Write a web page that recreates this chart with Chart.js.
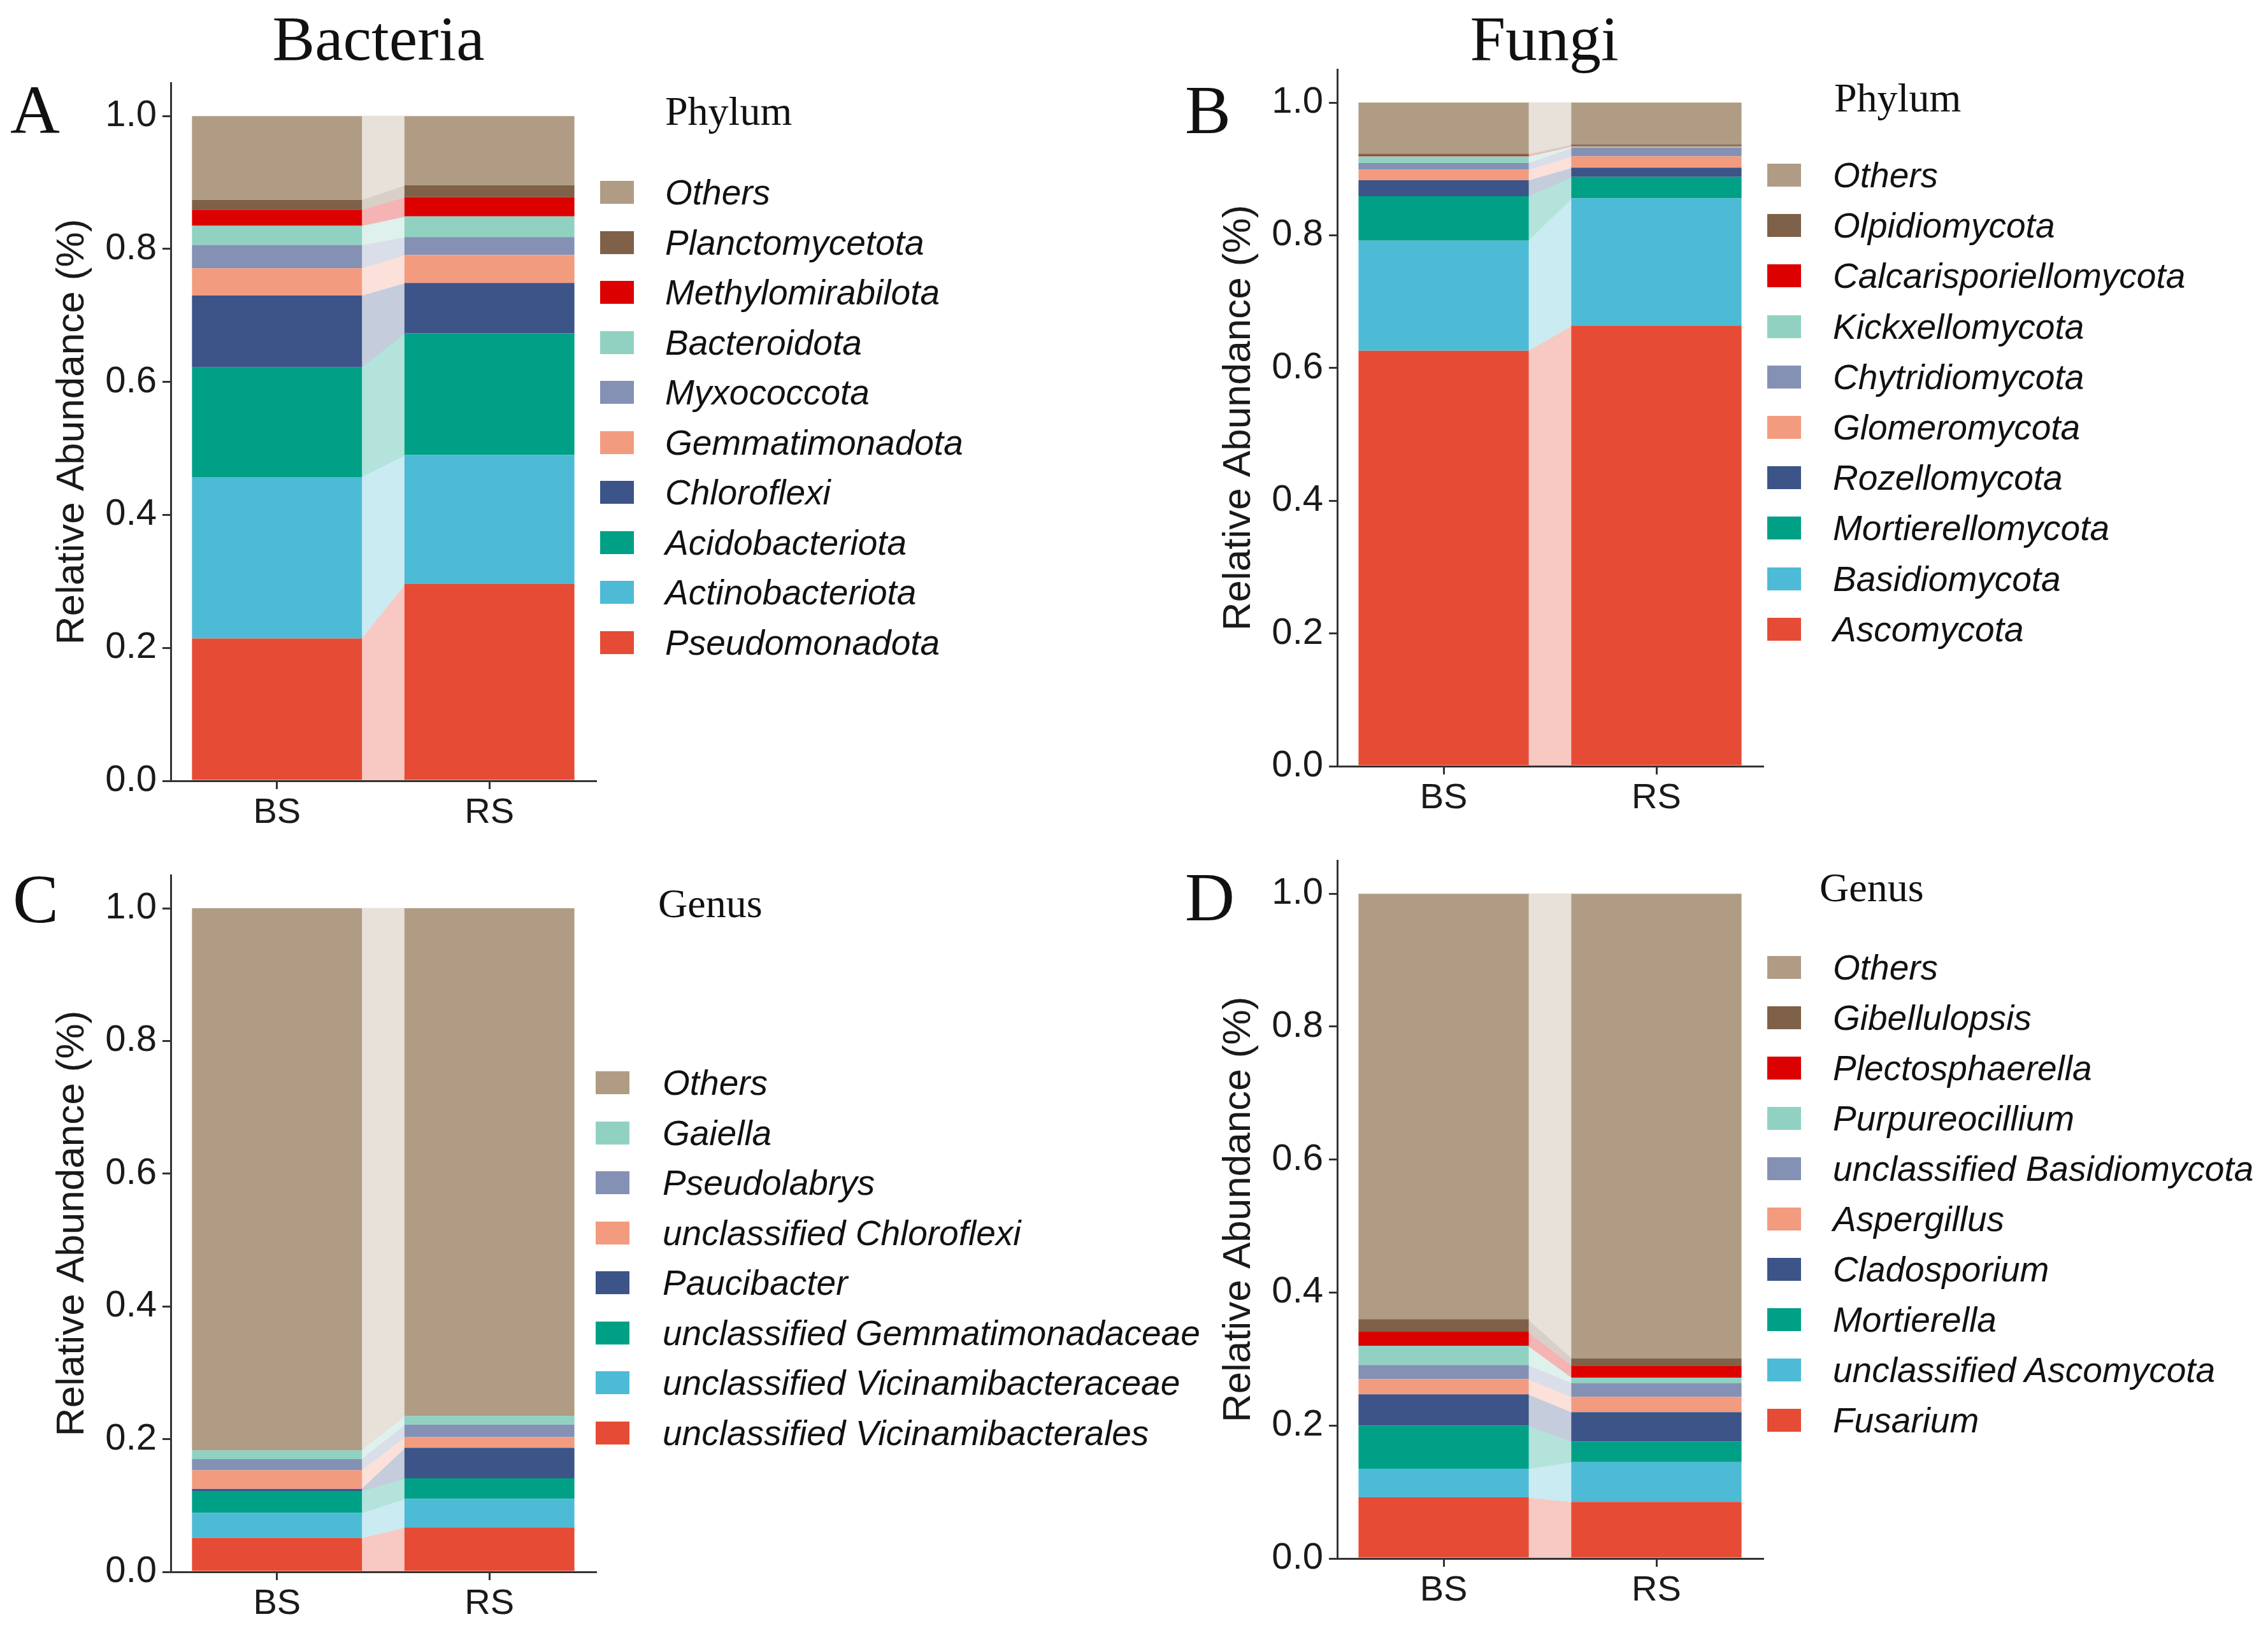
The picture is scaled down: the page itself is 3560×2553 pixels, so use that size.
<!DOCTYPE html>
<html><head><meta charset="utf-8">
<script src="https://cdn.jsdelivr.net/npm/chart.js@4.4.1/dist/chart.umd.min.js"></script>
<style>
html,body{margin:0;padding:0;background:#fff;}
body{width:3560px;height:2553px;position:relative;overflow:hidden;}
canvas{position:absolute;}
.t{position:absolute;white-space:nowrap;line-height:1;color:#111;}
.serif{font-family:"Liberation Serif","Times New Roman",serif;}
.sans{font-family:"Liberation Sans",Arial,sans-serif;}
.sw{position:absolute;}
</style></head><body>
<script>
// ---------------- DATA ----------------
const samples = ["BS", "RS"];
const yTicks = [0, 0.2, 0.4, 0.6, 0.8, 1.0];
const yAxisTitle = "Relative Abundance (%)";
const groupTitles = ["Bacteria", "Fungi"];
const panelLetters = ["A", "B", "C", "D"];
const legendTitles = ["Phylum", "Phylum", "Genus", "Genus"];

const palette10 = ["#E64B35","#4DBBD5","#00A087","#3C5488","#F39B7F","#8491B4","#91D1C2","#DC0000","#7E6148","#B09C85"];
const palette8  = ["#E64B35","#4DBBD5","#00A087","#3C5488","#F39B7F","#8491B4","#91D1C2","#B09C85"];

// names listed bottom -> top of the stack
const bacPhylumNames = ["Pseudomonadota","Actinobacteriota","Acidobacteriota","Chloroflexi","Gemmatimonadota","Myxococcota","Bacteroidota","Methylomirabilota","Planctomycetota","Others"];
const bacPhylumBS = [0.214,0.243,0.165,0.108,0.041,0.035,0.029,0.024,0.015,0.126];
const bacPhylumRS = [0.296,0.194,0.183,0.076,0.042,0.027,0.031,0.029,0.018,0.104];

const funPhylumNames = ["Ascomycota","Basidiomycota","Mortierellomycota","Rozellomycota","Glomeromycota","Chytridiomycota","Kickxellomycota","Calcarisporiellomycota","Olpidiomycota","Others"];
const funPhylumBS = [0.626,0.166,0.067,0.024,0.016,0.010,0.010,0.002,0.002,0.077];
const funPhylumRS = [0.664,0.192,0.032,0.014,0.017,0.013,0.002,0.001,0.002,0.063];

const bacGenusNames = ["unclassified Vicinamibacterales","unclassified Vicinamibacteraceae","unclassified Gemmatimonadaceae","Paucibacter","unclassified Chloroflexi","Pseudolabrys","Gaiella","Others"];
const bacGenusBS = [0.051,0.038,0.033,0.003,0.028,0.017,0.013,0.817];
const bacGenusRS = [0.067,0.043,0.031,0.046,0.016,0.019,0.013,0.765];

const funGenusNames = ["Fusarium","unclassified Ascomycota","Mortierella","Cladosporium","Aspergillus","unclassified Basidiomycota","Purpureocillium","Plectosphaerella","Gibellulopsis","Others"];
const funGenusBS = [0.092,0.043,0.065,0.047,0.023,0.021,0.029,0.021,0.019,0.640];
const funGenusRS = [0.085,0.060,0.031,0.044,0.023,0.021,0.008,0.018,0.011,0.699];

// ---------------- RENDER ----------------
const SANS = '"Liberation Sans", Arial, sans-serif';
const SERIF = '"Liberation Serif", "Times New Roman", serif';

function mixWhite(hex, a){
  const r=parseInt(hex.slice(1,3),16), g=parseInt(hex.slice(3,5),16), b=parseInt(hex.slice(5,7),16);
  const f=v=>Math.round(255-(255-v)*a);
  return `rgb(${f(r)},${f(g)},${f(b)})`;
}

const linkPlugin = {
  id:'links',
  beforeDatasetsDraw(chart){
    const ctx = chart.ctx;
    chart.data.datasets.forEach((ds,i)=>{
      const m = chart.getDatasetMeta(i);
      const a = m.data[0], b = m.data[1];
      if(!a||!b) return;
      const ax = a.x + a.width/2, bx = b.x - b.width/2;
      const c = mixWhite(ds.backgroundColor, 0.3);
      ctx.save();
      ctx.fillStyle = c; ctx.strokeStyle = c; ctx.lineWidth = 1;
      ctx.beginPath();
      ctx.moveTo(ax-1, a.y); ctx.lineTo(bx+1, b.y); ctx.lineTo(bx+1, b.base); ctx.lineTo(ax-1, a.base);
      ctx.closePath(); ctx.fill(); ctx.stroke();
      ctx.restore();
    });
  }
};

function addText(txt, cls, size, x, top, opts={}){
  const d=document.createElement('div');
  d.className='t '+cls; d.textContent=txt;
  d.style.fontSize=size+'px'; d.style.left=x+'px'; d.style.top=top+'px';
  if(opts.italic) d.style.fontStyle='italic';
  document.body.appendChild(d);
  if(opts.center){ d.style.left=(x - d.offsetWidth/2)+'px'; }
  return d;
}

function makePanel(names, colors, bs, rs, area){
  const yW=248, xH=110, padTop=70, padRight=20;
  const cl=area.left-yW, ct=area.top-padTop;
  const cw=area.right-cl+padRight, ch=area.bottom+xH-ct;
  const cv=document.createElement('canvas');
  cv.width=cw; cv.height=ch;
  cv.style.left=cl+'px'; cv.style.top=ct+'px'; cv.style.width=cw+'px'; cv.style.height=ch+'px';
  document.body.appendChild(cv);
  const datasets=names.map((n,i)=>({label:n,data:[bs[i],rs[i]],backgroundColor:colors[i],borderWidth:0,barPercentage:0.8,categoryPercentage:1.0}));
  new Chart(cv,{
    type:'bar',
    data:{labels:samples,datasets},
    options:{
      responsive:false, animation:false, devicePixelRatio:1,
      layout:{padding:{top:padTop,right:padRight,left:0,bottom:0}},
      plugins:{legend:{display:false},tooltip:{enabled:false}},
      scales:{
        x:{stacked:true, offset:true,
           grid:{display:true,drawOnChartArea:false,drawTicks:true,tickLength:13,lineWidth:3,color:'#333',offset:false},
           border:{display:true,color:'#333',width:3},
           ticks:{font:{family:SANS,size:56},color:'#1a1a1a',padding:4},
           afterFit(s){s.height=xH;}},
        y:{stacked:true, min:0, max:1.05,
           afterBuildTicks(s){s.ticks=yTicks.map(v=>({value:v}));},
           ticks:{callback:v=>Number(v).toFixed(1),font:{family:SANS,size:58},color:'#1a1a1a',padding:9},
           grid:{display:true,drawOnChartArea:false,drawTicks:true,tickLength:13,lineWidth:3,color:'#333'},
           border:{display:true,color:'#333',width:3},
           title:{display:true,text:yAxisTitle,font:{family:SANS,size:62},color:'#1a1a1a',padding:{top:57,bottom:0}},
           afterFit(s){s.width=yW;}}
      }
    },
    plugins:[linkPlugin]
  });
}

function makeLegend(title, names, colors, L){
  const FT=64;
  addText(title,'serif',FT,L.titleX,L.titleCY-0.5*FT);
  const n=names.length, F=55;
  for(let k=0;k<n;k++){
    const i=n-1-k;
    const cy=L.row0+k*L.step;
    const s=document.createElement('div');
    s.className='sw';
    s.style.left=L.swX+'px'; s.style.top=(cy-18)+'px'; s.style.width='53px'; s.style.height='36px';
    s.style.background=colors[i];
    document.body.appendChild(s);
    addText(names[i],'sans',F,L.textX,cy-0.49*F,{italic:true});
  }
}

// group titles
addText(groupTitles[0],'serif',100,594,95-84,{center:true});
addText(groupTitles[1],'serif',100,2424,95-84,{center:true});
// panel letters
addText(panelLetters[0],'serif',108,16,209-90);
addText(panelLetters[1],'serif',108,1860,209-90);
addText(panelLetters[2],'serif',108,20,1448-90);
addText(panelLetters[3],'serif',108,1860,1445-90);

makePanel(bacPhylumNames,palette10,bacPhylumBS,bacPhylumRS,{left:268,right:935,top:130,bottom:1226});
makePanel(funPhylumNames,palette10,funPhylumBS,funPhylumRS,{left:2099,right:2767,top:109,bottom:1203});
makePanel(bacGenusNames,palette8,bacGenusBS,bacGenusRS,{left:268,right:935,top:1374,bottom:2468});
makePanel(funGenusNames,palette10,funGenusBS,funGenusRS,{left:2099,right:2767,top:1351,bottom:2447});

makeLegend(legendTitles[0],bacPhylumNames,palette10,{titleX:1044,titleCY:175,swX:942,textX:1044,row0:302,step:78.5});
makeLegend(legendTitles[1],funPhylumNames,palette10,{titleX:2879,titleCY:154,swX:2774,textX:2877,row0:275,step:79.2});
makeLegend(legendTitles[2],bacGenusNames,palette8,{titleX:1033,titleCY:1419,swX:935,textX:1040,row0:1700,step:78.5});
makeLegend(legendTitles[3],funGenusNames,palette10,{titleX:2856,titleCY:1394,swX:2774,textX:2877,row0:1519,step:79.0});
</script>
</body></html>
